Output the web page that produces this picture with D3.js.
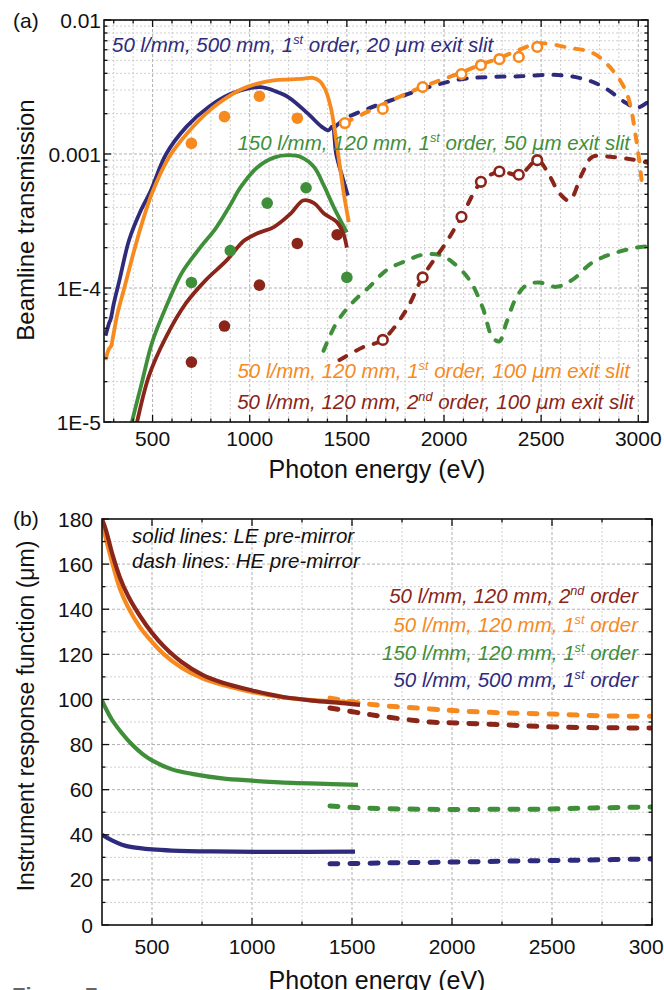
<!DOCTYPE html>
<html>
<head>
<meta charset="utf-8">
<script src="https://cdn.jsdelivr.net/npm/d3@7/dist/d3.min.js"></script>
<style>
body { margin: 0; background: #fff; }
svg { display: block; font-family: "Liberation Sans", Arial, sans-serif; }
.gmin { stroke: #c4c4c4; stroke-width: 0.8; stroke-dasharray: 2,2; fill: none; }
.gmaj { stroke: #a8a8a8; stroke-width: 0.9; stroke-dasharray: 3,2; fill: none; }
</style>
</head>
<body>
<svg id="fig" width="664" height="990"></svg>
<script>
// ---- colours
var NAVY = '#2f2b7c', ORANGE = '#f68a1f', GREEN = '#3f8f3a', RED = '#8a2519';

// ---- panel (a): beamline transmission, [photon energy eV, transmission]
var blueSolidA = [[258,4.4e-5],[275,5.4e-5],[285,5.9e-5],[300,7.6e-5],[330,1.15e-4],[380,2.3e-4],[440,3.8e-4],[490,5.3e-4],[570,1.0e-3],[675,1.6e-3],[790,2.25e-3],[900,2.8e-3],[1000,3.1e-3],[1060,3.15e-3],[1130,2.95e-3],[1200,2.65e-3],[1300,2.0e-3],[1370,1.6e-3],[1405,1.5e-3],[1425,1.6e-3],[1445,1.0e-3],[1475,6.9e-4],[1505,4.9e-4]];
var orangeSolidA = [[258,2.9e-5],[275,3.5e-5],[287,3.7e-5],[295,4.2e-5],[320,6.5e-5],[353,9.8e-5],[405,1.9e-4],[450,3.2e-4],[497,5.1e-4],[585,9.5e-4],[673,1.4e-3],[791,2.1e-3],[894,2.7e-3],[960,3.05e-3],[1040,3.35e-3],[1124,3.55e-3],[1212,3.6e-3],[1279,3.65e-3],[1325,3.7e-3],[1360,3.5e-3],[1390,3.0e-3],[1418,2.2e-3],[1435,1.6e-3],[1459,9.1e-4],[1484,5.1e-4],[1510,3.1e-4]];
var greenSolidA = [[380,8e-6],[394,1e-5],[446,2.0e-5],[497,3.9e-5],[569,7.2e-5],[651,1.3e-4],[739,1.95e-4],[826,2.8e-4],[893,4.0e-4],[955,5.7e-4],[1037,7.9e-4],[1124,9.4e-4],[1200,9.8e-4],[1263,9.5e-4],[1331,8e-4],[1382,5.8e-4],[1433,4e-4],[1500,2.6e-4]];
var redSolidA = [[405,8e-6],[420,1e-5],[481,2.2e-5],[569,4.3e-5],[672,7.7e-5],[775,1.15e-4],[880,1.6e-4],[970,2.25e-4],[1037,2.55e-4],[1124,2.85e-4],[1212,3.6e-4],[1275,4.5e-4],[1331,4.3e-4],[1382,3.6e-4],[1449,3.1e-4],[1480,2.6e-4],[1500,2.0e-4]];

var blueDashA = [[1440,1.6e-3],[1498,1.86e-3],[1616,2.2e-3],[1755,2.6e-3],[1873,3.0e-3],[2079,3.6e-3],[2218,3.75e-3],[2388,3.8e-3],[2558,3.9e-3],[2696,3.7e-3],[2815,3.2e-3],[2938,2.4e-3],[2990,2.2e-3],[3050,2.45e-3]];
var orangeDashA = [[1488,1.7e-3],[1616,2.1e-3],[1873,3.1e-3],[2079,4.0e-3],[2182,4.6e-3],[2285,5.2e-3],[2388,6.0e-3],[2491,6.7e-3],[2645,6.2e-3],[2763,5.7e-3],[2851,4.5e-3],[2938,2.9e-3],[2990,1.27e-3],[3020,5.8e-4]];
var greenDashA = [[1380,3.4e-5],[1447,5.5e-5],[1529,7.8e-5],[1616,1.02e-4],[1704,1.36e-4],[1807,1.6e-4],[1889,1.77e-4],[1976,1.77e-4],[2043,1.56e-4],[2131,1.15e-4],[2198,7.2e-5],[2249,4.3e-5],[2285,4.0e-5],[2321,5.5e-5],[2372,8.5e-5],[2424,1.05e-4],[2491,1.1e-4],[2578,1.02e-4],[2660,1.15e-4],[2763,1.55e-4],[2866,1.8e-4],[2990,2.0e-4],[3050,2.05e-4]];
var redDashA = [[1462,2.9e-5],[1580,3.6e-5],[1683,4.1e-5],[1807,6.9e-5],[1889,1.2e-4],[2012,2.2e-4],[2090,3.4e-4],[2192,6.2e-4],[2285,7.4e-4],[2388,7.0e-4],[2481,9.0e-4],[2527,7.6e-4],[2594,5.1e-4],[2645,4.5e-4],[2712,7.2e-4],[2763,9.5e-4],[2866,9.5e-4],[2969,9.1e-4],[3050,8.6e-4]];

// measured points
var orangeDotsA = [[700,1.2e-3],[870,1.9e-3],[1050,2.7e-3],[1245,1.85e-3]];
var greenDotsA = [[700,1.1e-4],[900,1.9e-4],[1090,4.3e-4],[1290,5.6e-4],[1500,1.2e-4]];
var redDotsA = [[700,2.8e-5],[870,5.2e-5],[1050,1.05e-4],[1245,2.15e-4],[1450,2.5e-4]];
var orangeOpenA = [[1490,1.7e-3],[1685,2.17e-3],[1890,3.16e-3],[2090,3.95e-3],[2190,4.6e-3],[2285,5.1e-3],[2385,5.3e-3],[2480,6.3e-3]];
var redOpenA = [[1685,4.1e-5],[1890,1.2e-4],[2090,3.4e-4],[2190,6.2e-4],[2285,7.4e-4],[2385,7.0e-4],[2480,9.0e-4]];

// ---- panel (b): instrument response function, [photon energy eV, um]
var redSolidB = [[250,180],[270,175],[300,165],[340,154],[380,146],[440,137],[500,129.5],[560,123.5],[650,116.5],[750,111],[850,107.5],[1000,104],[1150,101.2],[1300,99.5],[1450,98.4],[1540,97.6]];
var orangeSolidB = [[250,178],[270,171],[300,161],[340,149],[380,141],[440,132],[500,125.5],[560,120],[650,114],[750,109.5],[850,106.5],[1000,103.3],[1150,101],[1300,99.7],[1450,98.9],[1540,98.2]];
var greenSolidB = [[250,99.5],[300,91],[350,85],[400,80],[450,76],[500,73],[600,69],[700,67],[850,65],[1000,64],[1200,63],[1400,62.5],[1530,62.1]];
var blueSolidB = [[250,40],[300,37.5],[350,35.6],[400,34.5],[500,33.5],[600,33],[800,32.6],[1100,32.4],[1515,32.5]];
var orangeDashB = [[1390,100.6],[1540,98.4],[1675,97.1],[1890,95.8],[2040,94.9],[2275,94.0],[2505,93.5],[2755,92.7],[3000,92.6]];
var redDashB = [[1390,96.2],[1540,94.0],[1675,92.2],[1890,90.0],[2040,89.5],[2275,88.7],[2505,87.8],[3000,87.3]];
var greenDashB = [[1390,52.8],[1540,51.9],[1775,51.4],[2005,51.2],[2240,51.3],[2475,51.4],[2705,51.9],[3000,52.3]];
var blueDashB = [[1390,27.1],[1655,27.5],[2005,27.9],[2340,28.4],[2675,28.8],[3000,29.3]];

// ---- tick labels
var xTicksA = [500, 1000, 1500, 2000, 2500, 3000];
var yTicksA = [1e-5, 1e-4, 1e-3, 1e-2];
var yLabelsA = ['1E-5', '1E-4', '0.001', '0.01'];
var xTicksB = [500, 1000, 1500, 2000, 2500, 3000];
var yTicksB = [0, 20, 40, 60, 80, 100, 120, 140, 160, 180];

// ---- annotation texts: [text, 1 = superscript, 2 = greek]
var notesA = [
  { color: NAVY, x: 112, y: 52, anchor: 'start', parts: [['50 l/mm, 500 mm, 1'], ['st', 1], [' order, 20 '], ['μ', 2], ['m exit slit']] },
  { color: GREEN, x: 630, y: 150, anchor: 'end', parts: [['150 l/mm, 120 mm, 1'], ['st', 1], [' order, 50 '], ['μ', 2], ['m exit slit']] },
  { color: ORANGE, x: 630, y: 378, anchor: 'end', parts: [['50 l/mm, 120 mm, 1'], ['st', 1], [' order, 100 '], ['μ', 2], ['m exit slit']] },
  { color: RED, x: 634, y: 409, anchor: 'end', parts: [['50 l/mm, 120 mm, 2'], ['nd', 1], [' order, 100 '], ['μ', 2], ['m exit slit']] }
];
var notesB = [
  { color: '#111', x: 132, y: 543, anchor: 'start', parts: [['solid lines: LE pre-mirror']] },
  { color: '#111', x: 132, y: 568, anchor: 'start', parts: [['dash lines: HE pre-mirror']] },
  { color: RED, x: 638, y: 603, anchor: 'end', parts: [['50 l/mm, 120 mm, 2'], ['nd', 1], [' order']] },
  { color: ORANGE, x: 638, y: 632, anchor: 'end', parts: [['50 l/mm, 120 mm, 1'], ['st', 1], [' order']] },
  { color: GREEN, x: 638, y: 660, anchor: 'end', parts: [['150 l/mm, 120 mm, 1'], ['st', 1], [' order']] },
  { color: NAVY, x: 638, y: 687, anchor: 'end', parts: [['50 l/mm, 500 mm, 1'], ['st', 1], [' order']] }
];

var svg = d3.select('#fig');

// scales
var xA = d3.scaleLinear().domain([250, 3050]).range([104, 648]);
var yA = d3.scaleLog().domain([1e-5, 1e-2]).range([422, 20]);
var xB = d3.scaleLinear().domain([250, 3000]).range([102, 652]);
var yB = d3.scaleLinear().domain([0, 180]).range([925, 519]);

function clip(id, x, y) {
  svg.append('clipPath').attr('id', id).append('rect')
    .attr('x', x.range()[0]).attr('y', y.range()[1])
    .attr('width', x.range()[1] - x.range()[0])
    .attr('height', y.range()[0] - y.range()[1]);
}
clip('clipA', xA, yA);
clip('clipB', xB, yB);

function grid(x, y, xs, ys, xMaj, yMaj) {
  var g = svg.append('g');
  xs.forEach(function (v) {
    g.append('line').attr('class', xMaj.indexOf(v) >= 0 ? 'gmaj' : 'gmin')
      .attr('x1', x(v)).attr('x2', x(v)).attr('y1', y.range()[0]).attr('y2', y.range()[1]);
  });
  ys.forEach(function (v) {
    g.append('line').attr('class', yMaj.indexOf(v) >= 0 ? 'gmaj' : 'gmin')
      .attr('y1', y(v)).attr('y2', y(v)).attr('x1', x.range()[0]).attr('x2', x.range()[1]);
  });
}

// inward ticks on all four sides
function frame(x, y, xMinor, xMajor, yMinor, yMajor) {
  var g = svg.append('g').attr('stroke', '#111').attr('stroke-width', 1.3);
  var x0 = x.range()[0], x1 = x.range()[1], y0 = y.range()[0], y1 = y.range()[1];
  function tx(v, len) {
    g.append('line').attr('x1', x(v)).attr('x2', x(v)).attr('y1', y0).attr('y2', y0 - len);
    g.append('line').attr('x1', x(v)).attr('x2', x(v)).attr('y1', y1).attr('y2', y1 + len);
  }
  function ty(v, len) {
    g.append('line').attr('y1', y(v)).attr('y2', y(v)).attr('x1', x0).attr('x2', x0 + len);
    g.append('line').attr('y1', y(v)).attr('y2', y(v)).attr('x1', x1).attr('x2', x1 - len);
  }
  xMinor.forEach(function (v) { tx(v, 3.5); });
  xMajor.forEach(function (v) { tx(v, 7); });
  yMinor.forEach(function (v) { ty(v, 3.5); });
  yMajor.forEach(function (v) { ty(v, 7); });
  svg.append('rect').attr('x', x0).attr('y', y1).attr('width', x1 - x0).attr('height', y0 - y1)
    .attr('fill', 'none').attr('stroke', '#111').attr('stroke-width', 1.6);
}

function series(clipId, x, y, data, color, dashed, w) {
  var line = d3.line().x(function (d) { return x(d[0]); }).y(function (d) { return y(d[1]); })
    .curve(d3.curveCatmullRom.alpha(0.5));
  svg.append('path').attr('clip-path', 'url(#' + clipId + ')')
    .attr('d', line(data)).attr('fill', 'none').attr('stroke', color)
    .attr('stroke-width', w).attr('stroke-linecap', dashed ? 'round' : 'butt')
    .attr('stroke-linejoin', 'round')
    .attr('stroke-dasharray', dashed ? dashed : null);
}

function dots(x, y, data, color, open) {
  svg.append('g').selectAll('circle').data(data).enter().append('circle')
    .attr('cx', function (d) { return x(d[0]); }).attr('cy', function (d) { return y(d[1]); })
    .attr('r', open ? 4.8 : 5.8)
    .attr('fill', open ? '#fff' : color)
    .attr('stroke', open ? color : 'none').attr('stroke-width', open ? 2.6 : 0);
}

function note(n, size) {
  var t = svg.append('text').attr('x', n.x).attr('y', n.y).attr('text-anchor', n.anchor)
    .attr('fill', n.color).attr('font-style', 'italic').attr('font-size', size);
  n.parts.forEach(function (p, i) {
    var s = t.append('tspan').text(p[0]);
    if (p[1] === 1) s.attr('font-size', size * 0.62).attr('dy', -size * 0.38);
    if (p[1] === 2) s.attr('font-family', '"DejaVu Sans", sans-serif').attr('font-size', size * 0.95);
    var prev = i > 0 ? n.parts[i - 1] : null;
    if (prev && prev[1] === 1) s.attr('dy', size * 0.38);
  });
}

// ================= panel (a)
var xMinorA = d3.range(300, 3050, 100).filter(function (v) { return v % 500 !== 0; });
var yMinorA = [];
[1e-5, 1e-4, 1e-3].forEach(function (d) { for (var k = 2; k <= 9; k++) yMinorA.push(d * k); });

grid(xA, yA, d3.range(300, 3050, 100), yMinorA.concat(yTicksA), xTicksA, yTicksA);

series('clipA', xA, yA, greenDashA, GREEN, '8,11', 4);
series('clipA', xA, yA, blueDashA, NAVY, '8,11', 4);
series('clipA', xA, yA, orangeDashA, ORANGE, '8,11', 4);
series('clipA', xA, yA, redDashA, RED, '8,11', 4);
series('clipA', xA, yA, blueSolidA, NAVY, null, 3.8);
series('clipA', xA, yA, orangeSolidA, ORANGE, null, 3.8);
series('clipA', xA, yA, greenSolidA, GREEN, null, 3.8);
series('clipA', xA, yA, redSolidA, RED, null, 3.8);

dots(xA, yA, orangeDotsA, ORANGE, false);
dots(xA, yA, greenDotsA, GREEN, false);
dots(xA, yA, redDotsA, RED, false);
dots(xA, yA, orangeOpenA, ORANGE, true);
dots(xA, yA, redOpenA, RED, true);

frame(xA, yA, xMinorA, xTicksA, yMinorA, yTicksA);

svg.append('g').selectAll('text').data(xTicksA).enter().append('text')
  .attr('x', function (d) { return xA(d); }).attr('y', 446)
  .attr('text-anchor', 'middle').attr('font-size', 21).attr('fill', '#111')
  .text(function (d) { return d; });
svg.append('g').selectAll('text').data(yTicksA).enter().append('text')
  .attr('x', 101).attr('y', function (d) { return yA(d) + 7.5; })
  .attr('text-anchor', 'end').attr('font-size', 21).attr('fill', '#111')
  .text(function (d, i) { return yLabelsA[i]; });

svg.append('text').attr('x', 13).attr('y', 28).attr('font-size', 21).attr('fill', '#111').text('(a)');
svg.append('text').attr('x', 377).attr('y', 478).attr('text-anchor', 'middle')
  .attr('font-size', 25).attr('fill', '#111').text('Photon energy (eV)');
svg.append('text').attr('transform', 'translate(34,220) rotate(-90)').attr('text-anchor', 'middle')
  .attr('font-size', 24).attr('fill', '#111').text('Beamline transmission');

notesA.forEach(function (n) { note(n, 20.5); });

// ================= panel (b)
var xGridB = d3.range(500, 3000, 250);
var yGridB = d3.range(10, 180, 10);
grid(xB, yB, xGridB, yGridB, xTicksB, yTicksB);

series('clipB', xB, yB, orangeDashB, ORANGE, '8,12', 5);
series('clipB', xB, yB, redDashB, RED, '8,12', 5);
series('clipB', xB, yB, greenDashB, GREEN, '8,12', 5);
series('clipB', xB, yB, blueDashB, NAVY, '8,12', 5);
series('clipB', xB, yB, orangeSolidB, ORANGE, null, 4.2);
series('clipB', xB, yB, redSolidB, RED, null, 4.2);
series('clipB', xB, yB, greenSolidB, GREEN, null, 4.2);
series('clipB', xB, yB, blueSolidB, NAVY, null, 4.2);

frame(xB, yB, [750, 1250, 1750, 2250, 2750], xTicksB,
  d3.range(10, 180, 20), yTicksB);

svg.append('g').selectAll('text').data(xTicksB).enter().append('text')
  .attr('x', function (d) { return xB(d); }).attr('y', 954)
  .attr('text-anchor', 'middle').attr('font-size', 21).attr('fill', '#111')
  .text(function (d) { return d; });
svg.append('g').selectAll('text').data(yTicksB).enter().append('text')
  .attr('x', 93).attr('y', function (d) { return yB(d) + 7.5; })
  .attr('text-anchor', 'end').attr('font-size', 21).attr('fill', '#111')
  .text(function (d) { return d; });

svg.append('text').attr('x', 13).attr('y', 526).attr('font-size', 21).attr('fill', '#111').text('(b)');
svg.append('text').attr('x', 377).attr('y', 989).attr('text-anchor', 'middle')
  .attr('font-size', 25).attr('fill', '#111').text('Photon energy (eV)');
svg.append('text').attr('transform', 'translate(34,716) rotate(-90)').attr('text-anchor', 'middle')
  .attr('font-size', 23).attr('fill', '#111')
  .text('Instrument response function (μm)');

notesB.forEach(function (n) { note(n, 20.5); });

svg.append('text').attr('x', 12).attr('y', 1003).attr('font-size', 22).attr('font-weight', 'bold')
  .attr('fill', '#666').text('Figure 7');
</script>
</body>
</html>
